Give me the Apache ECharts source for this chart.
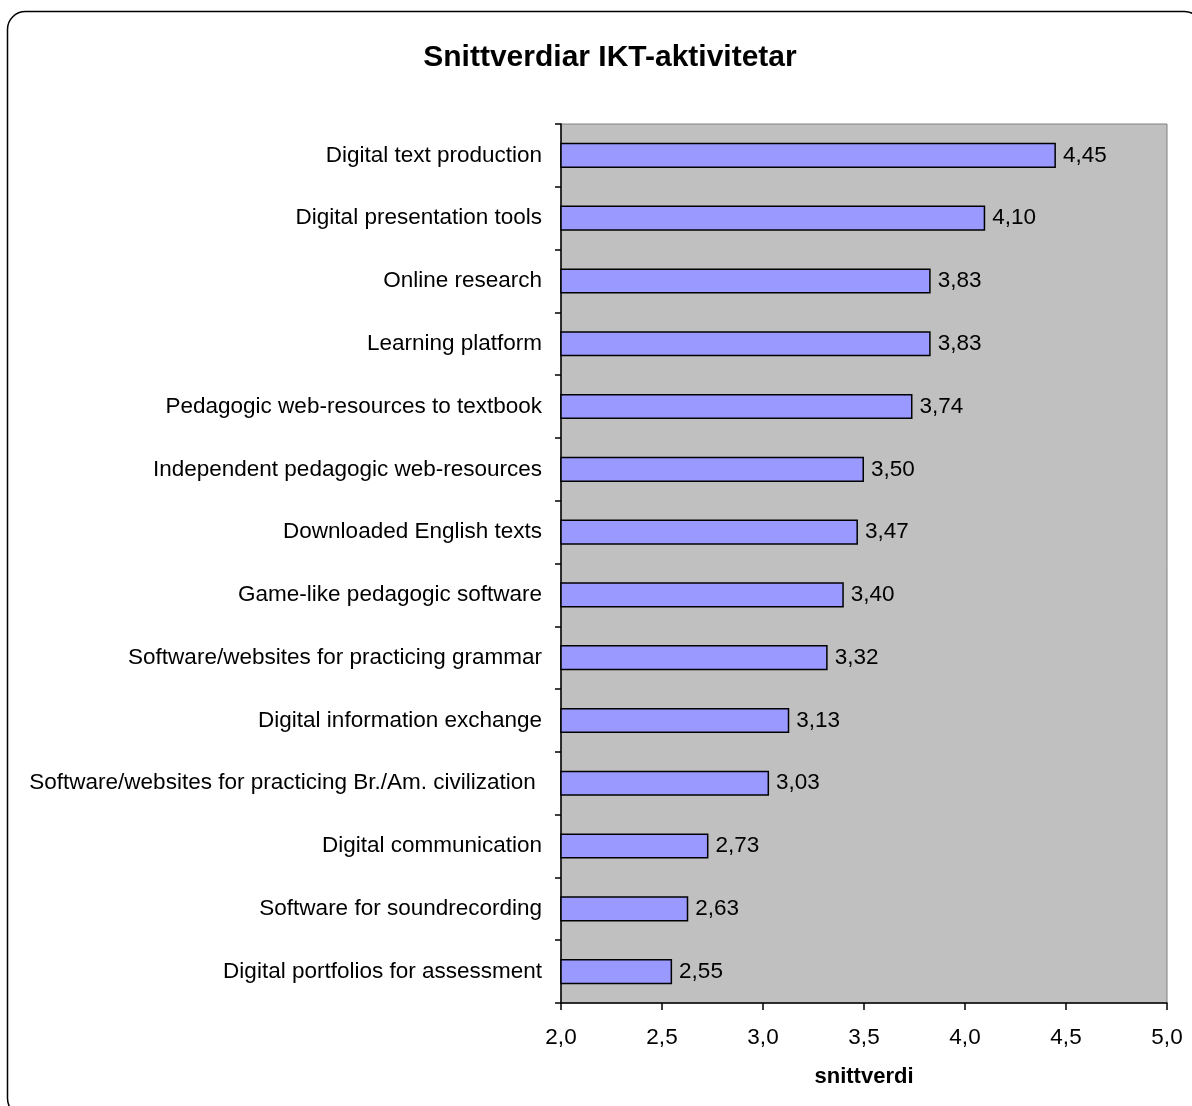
<!DOCTYPE html>
<html>
<head>
<meta charset="utf-8">
<script src="https://cdn.jsdelivr.net/npm/echarts@6/dist/echarts.min.js"></script>
<style>html,body{margin:0;padding:0;background:#fff}#c{width:1192px;height:1106px}</style>
</head>
<body>
<div id="c"></div>
<script>
const titleText = 'Snittverdiar IKT-aktivitetar';
const axisName = 'snittverdi';
const categories = [
  'Digital text production',
  'Digital presentation tools',
  'Online research',
  'Learning platform',
  'Pedagogic web-resources to textbook',
  'Independent pedagogic web-resources',
  'Downloaded English texts',
  'Game-like pedagogic software',
  'Software/websites for practicing grammar',
  'Digital information exchange',
  'Software/websites for practicing Br./Am. civilization ',
  'Digital communication',
  'Software for soundrecording',
  'Digital portfolios for assessment'
];
const values = [4.45, 4.10, 3.83, 3.83, 3.74, 3.50, 3.47, 3.40, 3.32, 3.13, 3.03, 2.73, 2.63, 2.55];
const xMin = 2.0, xMax = 5.0, xStep = 0.5;

const chart = echarts.init(document.getElementById('c'));
const font = '"Liberation Sans", Arial, sans-serif';
chart.setOption({
  animation: false,
  textStyle: { fontFamily: font },
  graphic: [{
    type: 'rect', z: -10,
    shape: { x: 7.5, y: 11.5, width: 1195, height: 1105, r: 18 },
    style: { fill: 'none', stroke: '#000', lineWidth: 1.5 }
  }],
  title: {
    text: titleText, left: 605, top: 38, textAlign: 'center',
    textStyle: { fontFamily: font, fontSize: 30, fontWeight: 'bold', color: '#000' }
  },
  grid: {
    left: 561, right: 25, top: 124, bottom: 103,
    show: true, backgroundColor: '#C0C0C0', borderColor: '#808080', borderWidth: 1
  },
  xAxis: {
    type: 'value', min: xMin, max: xMax, interval: xStep,
    name: axisName, nameLocation: 'middle', nameGap: 63,
    nameTextStyle: { fontFamily: font, fontSize: 22, fontWeight: 'bold', color: '#000' },
    axisLine: { show: true, lineStyle: { color: '#000', width: 1.5 } },
    axisTick: { show: true, length: 7, lineStyle: { color: '#000', width: 1.5 } },
    splitLine: { show: false },
    axisLabel: { fontFamily: font, fontSize: 22.5, color: '#000', margin: 23,
      formatter: v => v.toFixed(1).replace('.', ',') }
  },
  yAxis: {
    type: 'category', data: categories, inverse: true,
    axisLine: { show: true, lineStyle: { color: '#000', width: 1.5 } },
    axisTick: { show: true, length: 6, alignWithLabel: false, lineStyle: { color: '#000', width: 1.5 } },
    axisLabel: { fontFamily: font, fontSize: 22.5, color: '#000', margin: 19 }
  },
  series: [{
    type: 'bar', data: values, barWidth: '40%',
    itemStyle: { color: '#9999FF', borderColor: '#000', borderWidth: 1.5 },
    label: { show: true, position: 'right', distance: 7, fontFamily: font, fontSize: 22.5, color: '#000',
      formatter: p => p.value.toFixed(2).replace('.', ',') }
  }]
});
</script>
</body>
</html>
